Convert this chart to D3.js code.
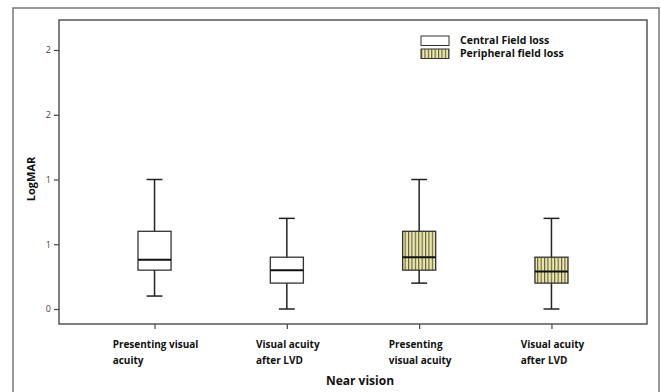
<!DOCTYPE html>
<html>
<head>
<meta charset="utf-8">
<script src="https://cdn.jsdelivr.net/npm/d3@7"></script>
<style>
body{margin:0;background:#fff;}
text{font-family:"Open Sans",Lato,sans-serif;}
</style>
</head>
<body>
<div id="chart"></div>
<script>
// box plot data (LogMAR)
var categories = ['Presenting visual|acuity','Visual acuity|after LVD','Presenting|visual acuity','Visual acuity|after LVD'];
var groups = ['Central Field loss','Central Field loss','Peripheral field loss','Peripheral field loss'];
var whiskerLow = [0.10, 0.00, 0.20, 0.00];
var q1 = [0.30, 0.20, 0.30, 0.20];
var median = [0.38, 0.30, 0.40, 0.29];
var q3 = [0.60, 0.40, 0.60, 0.40];
var whiskerHigh = [1.00, 0.70, 1.00, 0.70];
var yTicks = [0, 0.5, 1, 1.5, 2];
var yTickLabels = ['0','1','1','2','2'];
var legendItems = ['Central Field loss','Peripheral field loss'];

var W=661, H=392;
var svg = d3.select('#chart').append('svg').attr('width',W).attr('height',H);

var defs = svg.append('defs');
var pat = defs.append('pattern').attr('id','vstripe').attr('patternUnits','userSpaceOnUse')
    .attr('width',3.4).attr('height',10);
pat.append('rect').attr('width',3.4).attr('height',10).attr('fill','#ece8a2');
pat.append('rect').attr('x',0).attr('width',1.1).attr('height',10).attr('fill','#5a5a50');

var fillOf = g => g==legendItems[0] ? '#fff' : 'url(#vstripe)';

// outer frame
svg.append('rect').attr('x',13).attr('y',8).attr('width',646).attr('height',400)
    .attr('fill','none').attr('stroke','#777').attr('stroke-width',1.5);

var x = d3.scalePoint().domain(d3.range(categories.length)).range([59,647]).padding(0.722);
var y = d3.scaleLinear().domain([-0.1158,2.2317]).range([324,20]);

// y axis
var yAx = svg.append('g').attr('transform','translate(59,0)')
    .call(d3.axisLeft(y).tickValues(yTicks).tickFormat((d,i)=>yTickLabels[i]).tickSize(5).tickPadding(3));
yAx.select('.domain').remove();
yAx.selectAll('line').attr('stroke','#444').attr('stroke-width',1.2);
yAx.selectAll('text').attr('font-size',9).attr('fill','#444').attr('font-family','Arial,sans-serif');

// x axis
var xAx = svg.append('g').attr('transform','translate(0,324)')
    .call(d3.axisBottom(x).tickSize(5).tickFormat(''));
xAx.select('.domain').remove();
xAx.selectAll('line').attr('stroke','#444').attr('stroke-width',1.2);

// plot frame
svg.append('rect').attr('x',59).attr('y',20).attr('width',588).attr('height',304)
    .attr('fill','none').attr('stroke','#555').attr('stroke-width',1.5);

var bw = x.step()*0.25, cw = bw*0.48;
var boxes = svg.selectAll('g.box').data(d3.range(categories.length)).enter()
    .append('g').attr('class','box');
boxes.append('line').attr('x1',i=>x(i)).attr('x2',i=>x(i))
    .attr('y1',i=>y(whiskerLow[i])).attr('y2',i=>y(whiskerHigh[i]))
    .attr('stroke','#222').attr('stroke-width',1.5);
boxes.append('line').attr('x1',i=>x(i)-cw/2).attr('x2',i=>x(i)+cw/2)
    .attr('y1',i=>y(whiskerHigh[i])).attr('y2',i=>y(whiskerHigh[i]))
    .attr('stroke','#222').attr('stroke-width',1.5);
boxes.append('line').attr('x1',i=>x(i)-cw/2).attr('x2',i=>x(i)+cw/2)
    .attr('y1',i=>y(whiskerLow[i])).attr('y2',i=>y(whiskerLow[i]))
    .attr('stroke','#222').attr('stroke-width',1.5);
boxes.append('rect').attr('x',i=>x(i)-bw/2).attr('width',bw)
    .attr('y',i=>y(q3[i])).attr('height',i=>y(q1[i])-y(q3[i]))
    .attr('fill',i=>fillOf(groups[i])).attr('stroke','#333').attr('stroke-width',1.3);
boxes.append('line').attr('x1',i=>x(i)-bw/2).attr('x2',i=>x(i)+bw/2)
    .attr('y1',i=>y(median[i])).attr('y2',i=>y(median[i]))
    .attr('stroke','#111').attr('stroke-width',2);

// category labels (two lines, left aligned block centred on tick)
svg.selectAll('text.cat').data(d3.range(categories.length)).enter()
    .append('text').attr('class','cat')
    .attr('font-size',10).attr('font-weight','bold').attr('fill','#111')
    .each(function(i){
        var t=d3.select(this), lines=categories[i].split('|');
        t.selectAll('tspan').data(lines).enter().append('tspan')
            .attr('y',(d,k)=>348+k*16).text(d=>d);
        var w=d3.max(t.selectAll('tspan').nodes(),n=>n.getComputedTextLength());
        t.selectAll('tspan').attr('x',x(i)-w/2+1);
    });

svg.append('text').attr('x',360).attr('y',385).attr('text-anchor','middle')
    .attr('font-size',12).attr('font-weight','bold').attr('fill','#111').text('Near vision');
svg.append('text').attr('transform','translate(35,179) rotate(-90)').attr('text-anchor','middle')
    .attr('font-size',11).attr('font-weight','bold').attr('fill','#111').text('LogMAR');

// legend
var leg = svg.selectAll('g.leg').data(legendItems).enter().append('g').attr('class','leg')
    .attr('transform',(d,i)=>'translate(421,'+(36+i*13)+')');
leg.append('rect').attr('width',28).attr('height',9.5).attr('fill',d=>fillOf(d))
    .attr('stroke','#333').attr('stroke-width',1);
leg.append('text').attr('x',39).attr('y',8).attr('font-size',10.5).attr('font-weight','bold')
    .attr('fill','#111').text(d=>d);
</script>
</body>
</html>
